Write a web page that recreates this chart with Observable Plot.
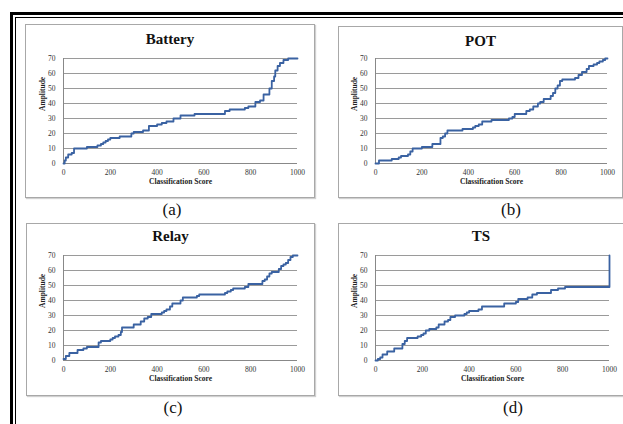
<!DOCTYPE html>
<html><head><meta charset="utf-8">
<script src="https://cdn.jsdelivr.net/npm/d3@7"></script>
<script src="https://cdn.jsdelivr.net/npm/@observablehq/plot@0.6"></script>
<style>
html,body{margin:0;padding:0}
body{width:623px;height:424px;overflow:hidden;background:#fff;position:relative;font-family:"Liberation Serif","Times New Roman",serif}
.fo{position:absolute;left:10px;top:12px;width:700px;height:500px;border:3px solid #000}
.fi{position:absolute;left:15px;top:17px;width:700px;height:500px;border:1px solid #000}
.panel{position:absolute;border:1px solid #a8a8a8;background:#fff;box-shadow:1px 1px 1px #d0d0d0}
.panel svg{display:block}
.ttl{position:absolute;left:0;width:100%;text-align:center;font-weight:bold;font-size:15px;color:#111}
.lab{position:absolute;font-size:17px;transform:translate(-50%,-50%);color:#111}
</style></head>
<body>
<div class="fo"></div><div class="fi"></div>
<script>
const yTicks = [0,10,20,30,40,50,60,70];
const xTicks = [0,200,400,600,800,1000];
const titles = ["Battery","POT","Relay","TS"];
const panelLabels = ["(a)","(b)","(c)","(d)"];

const batteryX = [0,5,10,20,35,45,100,145,160,170,180,190,200,240,290,300,340,365,400,420,440,470,500,560,680,690,710,775,790,820,840,855,875,880,890,900,905,915,925,940,960,1000];
const batteryY = [0,2,4,6,7,10,11,12,13,14,15,16,17,18,20,21,22,25,26,27,28,30,32,33,33,35,36,37,38,41,42,46,46,50,55,58,62,65,67,69,70,70];

const potX = [0,15,70,100,110,140,150,160,200,245,280,290,300,310,375,420,430,445,460,500,575,590,600,650,665,680,700,710,725,755,765,775,785,795,805,860,875,890,910,920,940,955,965,980,990,1000];
const potY = [0,2,3,4,5,6,8,10,11,13,17,18,20,22,23,24,25,26,28,29,30,31,33,35,36,38,40,41,43,45,47,50,52,55,56,57,59,61,63,65,66,67,68,69,70,70];

const relayX = [0,10,25,60,85,100,150,160,200,210,220,235,245,250,300,330,345,360,375,420,430,440,455,465,500,510,570,580,690,700,715,725,775,790,850,860,870,880,890,920,930,940,950,960,970,980,1000];
const relayY = [1,3,5,7,8,9,12,13,14,15,16,17,19,22,24,26,28,29,31,32,33,34,36,38,40,42,43,44,45,46,47,48,49,51,53,54,56,58,59,61,63,64,65,67,69,70,70];

const tsX = [0,10,20,30,50,80,115,125,135,180,195,205,215,230,260,270,295,310,320,340,380,390,400,440,455,550,600,610,650,670,690,750,780,810,1000,1000];
const tsY = [0,1,2,4,6,8,11,13,15,16,17,18,20,21,22,24,26,27,29,30,31,32,33,34,36,38,39,41,42,44,45,47,48,49,49,70];

const seriesX = [batteryX, potX, relayX, tsX];
const seriesY = [batteryY, potY, relayY, tsY];

// layout only
const boxes = [
  {left:26, top:25, w:288, h:172, ml:37, mr:17, mt:33, mb:34, lx:172, ly:210},
  {left:339, top:27, w:283, h:170, ml:36, mr:15, mt:31, mb:34, lx:511, ly:210},
  {left:27, top:224, w:287, h:171, ml:36, mr:17, mt:31, mb:35, lx:173, ly:408},
  {left:339, top:224, w:284, h:171, ml:36, mr:14, mt:31, mb:35, lx:513, ly:408}
];

const lineColor = "#3a62a2";

boxes.forEach((b, i) => {
  const data = seriesX[i].map((x, j) => ({x, y: seriesY[i][j]}));
  const div = document.createElement("div");
  div.className = "panel";
  div.style.left = (b.left - 1) + "px";
  div.style.top = (b.top - 1) + "px";
  div.style.width = b.w + "px";
  div.style.height = b.h + "px";
  const chart = Plot.plot({
    width: b.w, height: b.h,
    marginLeft: b.ml, marginRight: b.mr, marginTop: b.mt, marginBottom: b.mb,
    style: {fontFamily: '"Liberation Serif", serif', fontSize: "7.5px", color: "#333", background: "#fff", overflow: "visible"},
    x: {domain: [0, 1000], ticks: xTicks, tickFormat: d => String(d), tickSize: 0, tickPadding: 6, label: null},
    y: {domain: [0, 70], ticks: yTicks, tickFormat: d => String(d), tickSize: 0, tickPadding: 8, label: null},
    marks: [
      Plot.ruleY(yTicks.slice(1), {stroke: "#9a9a9a", strokeWidth: 1}),
      Plot.ruleY([0], {stroke: "#888", strokeWidth: 1}),
      Plot.ruleX([0], {stroke: "#888", strokeWidth: 1}),
      Plot.line(data, {x: "x", y: "y", curve: "step-after", stroke: lineColor, strokeWidth: 1.8}),
      Plot.text(["Classification Score"], {frameAnchor: "bottom", dy: 20, fontWeight: "bold", fontSize: 7.5, fill: "#222"}),
      Plot.text(["Amplitude"], {frameAnchor: "left", dx: -21, rotate: -90, fontWeight: "bold", fontSize: 7.5, fill: "#222"})
    ]
  });
  div.appendChild(chart);
  const t = document.createElement("div");
  t.className = "ttl";
  t.style.top = (i < 2 ? 6 : 4) + "px";
  t.textContent = titles[i];
  div.appendChild(t);
  document.body.appendChild(div);
  const l = document.createElement("div");
  l.className = "lab";
  l.style.left = b.lx + "px";
  l.style.top = b.ly + "px";
  l.textContent = panelLabels[i];
  document.body.appendChild(l);
});
</script>
</body></html>
